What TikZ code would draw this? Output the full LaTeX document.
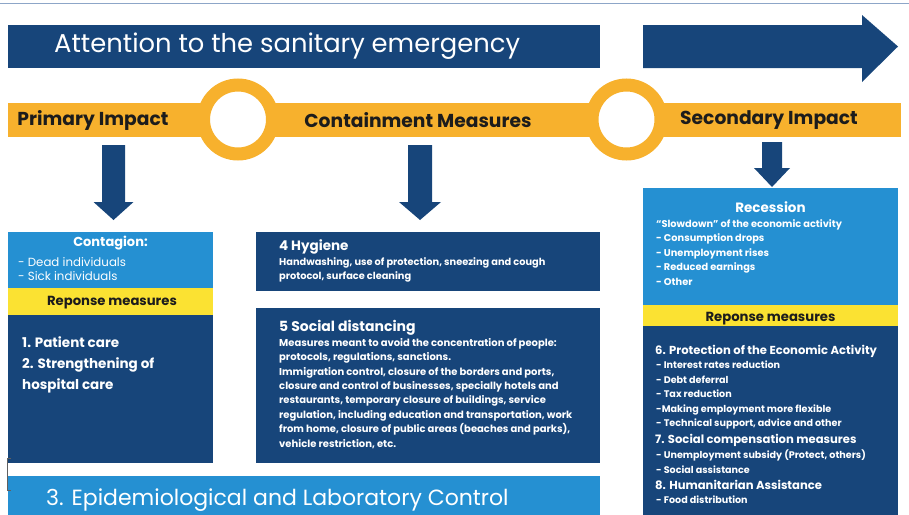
\documentclass[tikz,border=0pt]{standalone}
\usepackage{fontspec}
\setmainfont{Poppins}
\usetikzlibrary{positioning}

\definecolor{navy}{HTML}{17457A}
\definecolor{skyblue}{HTML}{2590D2}
\definecolor{amber}{HTML}{F7B12D}
\definecolor{lemon}{HTML}{FBE232}
\definecolor{ink}{HTML}{1C1C1C}
\definecolor{rulecol}{HTML}{8DA6C8}

\newcommand{\fs}[2]{\fontsize{#1}{#2}\selectfont}
% block arrow pointing down: x, top, neck, tip, half shaft, half head
\newcommand{\droparrow}[6]{\fill[navy] (#1-#5,#2) -- (#1+#5,#2) -- (#1+#5,#3)
  -- (#1+#6,#3) -- (#1,#4) -- (#1-#6,#3) -- (#1-#5,#3) -- cycle;}

\tikzset{
  panel/.style={fill=#1, inner sep=0, anchor=north west},
  txt/.style={text=white, inner sep=0, align=left, anchor=north west},
  stage/.style={text=ink, inner sep=0, font=\bfseries\fs{18.7}{22}},
  lemonhead/.style={text=ink, inner sep=0, font=\bfseries\fs{13.2}{15}}
}

\begin{document}
\begin{tikzpicture}[x=1pt,y=-1pt]
	% Define ring radius
	\def \ringr {34.5}
	\useasboundingbox (0,0) rectangle (909,514);
	% Draw top rule
	\draw[rulecol, line width=1] (0,3) -- (909,3);
	% Draw banner and big arrow
	\node[panel=navy, minimum width=592, minimum height=43] (banner) at (8,25) {};
	\node[txt, anchor=west, font=\fs{25.8}{30}] (title) at (54,46.5) {Attention to the sanitary emergency};
	\fill[navy] (643,25) -- (862,25) -- (862,15) -- (898,46.5) -- (862,82) -- (862,68) -- (643,68) -- cycle;
	% Draw timeline band with rings
	\node[panel=amber, minimum width=893, minimum height=34] (band) at (8,103) {};
	\draw[amber, line width=13, fill=white] (238,119.5) circle (\ringr);
	\draw[amber, line width=13, fill=white] (626.5,119.5) circle (\ringr);
	\node[stage] (primary) at (93,120) {Primary Impact};
	\node[stage] (containment) at (418,120) {Containment Measures};
	\node[stage] (secondary) at (769,120) {Secondary Impact};
	% Draw arrows down
	\droparrow{113.5}{145}{202}{220}{11.5}{20}
	\droparrow{420}{145}{202}{220}{12}{21}
	\droparrow{772}{142}{168}{187}{10}{18}
	% Draw primary impact column
	\node[panel=skyblue, minimum width=205, minimum height=56] (contagion) at (8,232) {};
	\node[panel=lemon, minimum width=205, minimum height=27] (reponseL) at (8,288) {};
	\node[panel=navy, minimum width=205, minimum height=148] (careL) at (8,315) {};
	\node[txt, anchor=center, font=\bfseries\fs{13}{15}] (contagionhd) at (110.5,243) {Contagion:};
	\node[txt, font=\fs{11.8}{14}] (contagionls) at (18,257) {- Dead individuals\\- Sick individuals};
	\node[lemonhead] (reponseLhd) at (112,303) {Reponse measures};
	\node[txt, font=\bfseries\fs{13.5}{21}] (carels) at (22,336) {1. Patient care\\2. Strengthening of\\hospital care};
	% Draw containment column
	\node[panel=navy, minimum width=344, minimum height=59] (hygiene) at (256,232) {};
	\node[txt, font=\bfseries\fs{13.5}{16}] (hygienehd) at (279,239) {4 Hygiene};
	\node[txt, font=\bfseries\fs{9.8}{14.3}] (hygienels) at (279,257.5) {Handwashing, use of protection, sneezing and cough\\protocol, surface cleaning};
	\node[panel=navy, minimum width=344, minimum height=155] (social) at (256,308) {};
	\node[txt, font=\bfseries\fs{14}{16}] (socialhd) at (279,320) {5 Social distancing};
	\node[txt, font=\bfseries\fs{10}{14.43}] (socialls) at (279,338) {Measures meant to avoid the concentration of people:\\protocols, regulations, sanctions.\\Immigration control, closure of the borders and ports,\\closure and control of businesses, specially hotels and\\restaurants, temporary closure of buildings, service\\regulation, including education and transportation, work\\from home, closure of public areas (beaches and parks),\\vehicle restriction, etc.};
	% Draw epidemiological control bar
	\node[panel=skyblue, minimum width=592, minimum height=45] (epi) at (8,476) {};
	\node[txt, anchor=west, font=\fs{22}{26}] (epihd) at (46,500) {3. Epidemiological and Laboratory Control};
	\draw[ink!70, line width=0.8] (11,458) -- (7,458) -- (7,490) -- (11,490);
	% Draw secondary impact column
	\node[panel=skyblue, minimum width=255, minimum height=117] (recession) at (643,188) {};
	\node[panel=lemon, minimum width=255, minimum height=21] (reponseR) at (643,305) {};
	\node[panel=navy, minimum width=255, minimum height=200] (economy) at (643,326) {};
	\node[txt, anchor=center, font=\bfseries\fs{13.5}{16}] (recessionhd) at (770.5,207) {Recession};
	\node[txt, font=\bfseries\fs{9.8}{14.5}] (recessionls) at (656,219) {“Slowdown” of the economic activity\\- Consumption drops\\- Unemployment rises\\- Reduced earnings\\- Other};
	\node[lemonhead] (reponseRhd) at (770.5,318.5) {Reponse measures};
	\node[txt, font=\bfseries\fs{11.6}{15}] (protecthd) at (655,345) {6. Protection of the Economic Activity};
	\node[txt, font=\bfseries\fs{9.6}{14.5}] (protectls) at (656,361) {- Interest rates reduction\\- Debt deferral\\- Tax reduction\\-Making employment more flexible\\- Technical support, advice and other};
	\node[txt, font=\bfseries\fs{11.6}{15}] (compenshd) at (655,434) {7. Social compensation measures};
	\node[txt, font=\bfseries\fs{9.6}{14.5}] (compensls) at (656,450) {- Unemployment subsidy (Protect, others)\\- Social assistance};
	\node[txt, font=\bfseries\fs{11.6}{15}] (humanhd) at (655,480) {8. Humanitarian Assistance};
	\node[txt, font=\bfseries\fs{9.6}{14.5}] (humanls) at (656,496) {- Food distribution};
\end{tikzpicture}
\end{document}
